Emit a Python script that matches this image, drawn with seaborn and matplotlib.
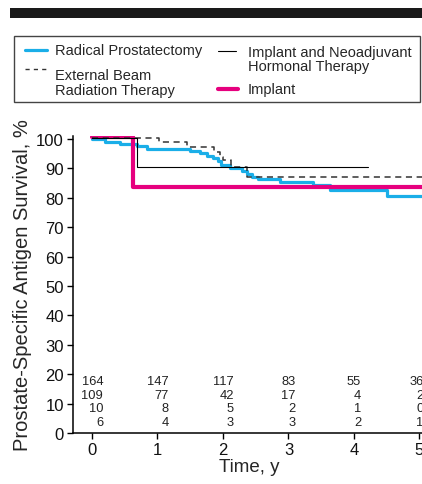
import numpy as np
import pandas as pd
import matplotlib
matplotlib.use("Agg")
import matplotlib.pyplot as plt
from matplotlib.patches import Rectangle
from matplotlib.lines import Line2D
import seaborn as sns

# Kaplan-Meier steps (time in years, survival in %)
rp_t = [0, 0.2, 0.43, 0.68, 0.84, 1.50, 1.65, 1.75, 1.85, 1.93, 1.97, 2.11, 2.29, 2.36, 2.44, 2.54, 2.87, 3.38, 3.63, 4.5, 5.1]
rp_v = [100, 99.1, 98.3, 97.5, 96.6, 96.0, 95.1, 94.3, 93.4, 92.4, 91.3, 90.0, 89.0, 88.1, 87.2, 86.4, 85.3, 84.3, 82.6, 80.7, 80.7]
ebrt_t = [0, 1.03, 1.45, 1.87, 1.95, 2.0, 2.13, 2.36, 5.1]
ebrt_v = [100.4, 98.8, 97.2, 95.5, 93.8, 92.9, 90.5, 87.2, 87.2]
nht_t = [0, 0.69, 4.22]
nht_v = [100.4, 90.4, 90.4]
imp_t = [0, 0.62, 5.1]
imp_v = [100.5, 83.7, 83.7]

# numbers at risk
risk_years = [0, 1, 2, 3, 4, 5]
risk_rp = [164, 147, 117, 83, 55, 36]
risk_ebrt = [109, 77, 42, 17, 4, 2]
risk_nht = [10, 8, 5, 2, 1, 0]
risk_imp = [6, 4, 3, 3, 2, 1]
risk_rows_y = [17.8, 13.0, 8.4, 3.6]

BLUE = "#1aaee8"
PINK = "#e6007e"
DARK = "#333333"

sns.set_style("ticks")
plt.rcParams["font.family"] = ["Liberation Sans", "DejaVu Sans"]

W, H = 422, 485
fig = plt.figure(figsize=(W / 100, H / 100), dpi=100)
ax = fig.add_axes([73 / W, 51 / H, 353 / W, 297 / H])

sns.lineplot(x=rp_t, y=rp_v, ax=ax, color=BLUE, lw=2.3, drawstyle="steps-post", estimator=None, zorder=2)
sns.lineplot(x=imp_t, y=imp_v, ax=ax, color=PINK, lw=3.0, drawstyle="steps-post", estimator=None, zorder=3)
sns.lineplot(x=ebrt_t, y=ebrt_v, ax=ax, color=DARK, lw=1.1, linestyle=(0, (4, 3)), drawstyle="steps-post", estimator=None, zorder=4)
sns.lineplot(x=nht_t, y=nht_v, ax=ax, color="black", lw=0.8, drawstyle="steps-post", estimator=None, zorder=5)

rows = [risk_rp, risk_ebrt, risk_nht, risk_imp]
col_shift = [0.17, 0.17, 0.17, 0.11, 0.11, 0.06]
for row, yv in zip(rows, risk_rows_y):
    for yr, n, s in zip(risk_years, row, col_shift):
        ax.text(yr + s, yv, str(n), ha="right", va="center", fontsize=9.3, color="#222222")

ax.set_xlim(-0.29, 5.1)
ax.set_ylim(0, 101)
ax.set_xticks(risk_years)
ax.set_yticks(np.arange(0, 101, 10))
ax.tick_params(labelsize=12, length=4, width=1, color="black", labelcolor="#111111", pad=2.5)
for side in ["top", "right"]:
    ax.spines[side].set_visible(False)
for side in ["left", "bottom"]:
    ax.spines[side].set_linewidth(1.1)
    ax.spines[side].set_color("black")
ax.set_xlabel("Time, y", fontsize=13.5, labelpad=1)
ax.set_ylabel("Prostate-Specific Antigen Survival, %", fontsize=14.5, labelpad=3)

# header bar and legend box drawn in pixel coordinates
ov = fig.add_axes([0, 0, 1, 1], zorder=10)
ov.set_xlim(0, W)
ov.set_ylim(H, 0)
ov.axis("off")
ov.patch.set_alpha(0)
ov.add_patch(Rectangle((10, 9), W - 10, 10, color="#1a1a1a", lw=0))
ov.add_patch(Rectangle((14, 37), 406, 66, fill=False, ec="#444444", lw=1))

fs = 10.5
ov.add_line(Line2D([25, 47], [51, 51], color=BLUE, lw=2.3))
ov.text(55, 51.5, "Radical Prostatectomy", fontsize=fs, va="center", ha="left")
ov.add_line(Line2D([25, 48], [70, 70], color=DARK, lw=1.0, linestyle=(0, (3, 3))))
ov.text(55, 83.5, "External Beam\nRadiation Therapy", fontsize=fs, va="center", ha="left", linespacing=1.1)
ov.add_line(Line2D([218, 236], [52, 52], color="black", lw=0.8))
ov.text(248, 60, "Implant and Neoadjuvant\nHormonal Therapy", fontsize=fs, va="center", ha="left", linespacing=1.05)
ov.add_line(Line2D([218, 238], [90, 90], color=PINK, lw=3.0))
ov.text(248, 90, "Implant", fontsize=fs, va="center", ha="left")

fig.savefig("out.png", dpi=100)
